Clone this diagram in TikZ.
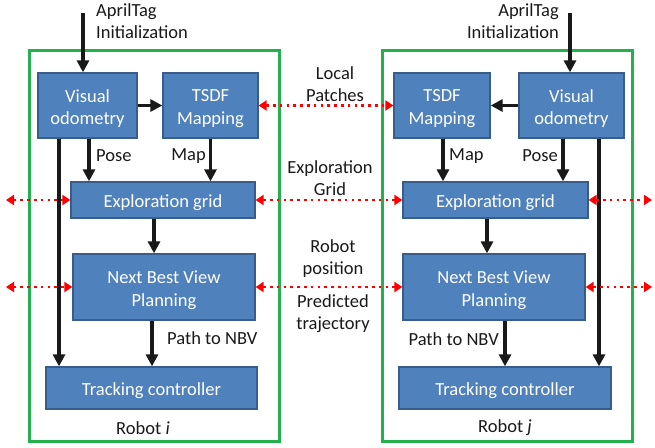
\documentclass[tikz,border=0pt]{standalone}
\usepackage{fontspec}
\setmainfont{Carlito}
\usetikzlibrary{arrows.meta}
\definecolor{boxfill}{RGB}{79,129,189}
\definecolor{boxline}{RGB}{56,93,138}
\definecolor{frameg}{RGB}{34,177,76}
\begin{document}
\begin{tikzpicture}[x=1pt,y=-1pt,
  box/.style={draw=boxline, line width=1.3pt, fill=boxfill, inner sep=0pt},
  boxtxt/.style={text=white, align=center, inner sep=0pt,
    font=\fontsize{18.5}{22.5}\selectfont},
  frame/.style={draw=frameg, line width=3pt, inner sep=0pt},
  lbl/.style={font=\fontsize{18.5}{22}\selectfont, text=black!90, inner sep=0pt},
  arr/.style={line width=3.5pt, draw=black!90, -{Triangle[length=12pt,width=12pt]}},
  share/.style={draw=red, line width=2.6pt, dash pattern=on 2.6pt off 4.2pt,
    {Triangle[length=8pt,width=10pt]}-{Triangle[length=8pt,width=10pt]}}
]
\useasboundingbox (0,0) rectangle (655,447);
% frames
\node[frame, minimum width=250pt, minimum height=391pt] (r1) at (154,245.5) {};
\node[frame, minimum width=250pt, minimum height=391pt] (r2) at (507,245.5) {};
% left boxes
\node[box, minimum width=99pt, minimum height=65pt] (vo1) at (87.5,105.5) {};
\node[box, minimum width=95pt, minimum height=65pt] (ts1) at (210.5,105.5) {};
\node[box, minimum width=184pt, minimum height=36pt] (eg1) at (163,200) {};
\node[box, minimum width=182pt, minimum height=66pt] (nb1) at (164,287) {};
\node[box, minimum width=211pt, minimum height=42pt] (tc1) at (151.5,388) {};
% right boxes
\node[box, minimum width=96pt, minimum height=65pt] (ts2) at (442,105.5) {};
\node[box, minimum width=105pt, minimum height=65pt] (vo2) at (571.5,105.5) {};
\node[box, minimum width=185pt, minimum height=36pt] (eg2) at (495.5,200) {};
\node[box, minimum width=182pt, minimum height=66pt] (nb2) at (494,287) {};
\node[box, minimum width=212pt, minimum height=42pt] (tc2) at (505,388) {};
% box texts
\node[boxtxt] (vo1t) at ([yshift=-3pt]vo1.center) {Visual\\odometry};
\node[boxtxt] (ts1t) at ([yshift=-3pt]ts1.center) {TSDF\\Mapping};
\node[boxtxt] (eg1t) at ([yshift=-3pt]eg1.center) {Exploration grid};
\node[boxtxt] (nb1t) at ([yshift=-3pt]nb1.center) {Next Best View\\Planning};
\node[boxtxt] (tc1t) at ([yshift=-3pt]tc1.center) {Tracking controller};
\node[boxtxt] (ts2t) at ([yshift=-3pt]ts2.center) {TSDF\\Mapping};
\node[boxtxt] (vo2t) at ([yshift=-3pt]vo2.center) {Visual\\odometry};
\node[boxtxt] (eg2t) at ([yshift=-3pt]eg2.center) {Exploration grid};
\node[boxtxt] (nb2t) at ([yshift=-3pt]nb2.center) {Next Best View\\Planning};
\node[boxtxt] (tc2t) at ([yshift=-3pt]tc2.center) {Tracking controller};
% free ends
\coordinate (at1) at (83,13);
\coordinate (at2) at (570,13);
\coordinate (le1) at (6,200);
\coordinate (le2) at (6,287);
\coordinate (re1) at (652,200);
\coordinate (re2) at (652,287);
% labels
\node[lbl, anchor=west, align=left] (al1) at (96,21) {AprilTag\\Initialization};
\node[lbl, anchor=east, align=right] (al2) at (559,21) {AprilTag\\Initialization};
\node[lbl, align=center] (lp) at (335,84) {Local\\Patches};
\node[lbl, align=center] (egl) at (330,178) {Exploration\\Grid};
\node[lbl, align=center] (rp) at (333,259) {Robot\\position};
\node[lbl, align=center] (pt) at (333,314) {Predicted\\trajectory};
\node[lbl, anchor=west] (p1) at (96,156) {Pose};
\node[lbl, anchor=east] (m1) at (206,156) {Map};
\node[lbl, anchor=west] (m2) at (449,156) {Map};
\node[lbl, anchor=east] (p2) at (558,156) {Pose};
\node[lbl, anchor=west] (pn1) at (167,338) {Path to NBV};
\node[lbl, anchor=east] (pn2) at (499,339) {Path to NBV};
\node[lbl] (ri) at (143,428) {Robot \textit{i}};
\node[lbl] (rj) at (505,428) {Robot \textit{j}};
% left arrows
\draw[arr] (at1) -- (at1 |- vo1.north);
\draw[arr] (vo1.east) -- (ts1.west);
\draw[arr] ([xshift=1.5pt]vo1.south) -- ([xshift=1.5pt]vo1.south |- eg1.north);
\draw[arr] (ts1.south) -- (ts1.south |- eg1.north);
\draw[arr] ([xshift=-28.5pt]vo1.south) -- ([xshift=-28.5pt]vo1.south |- tc1.north);
\draw[arr] ([xshift=-9pt]eg1.south) -- ([xshift=-9pt]eg1.south |- nb1.north);
\draw[arr] ([xshift=-12pt]nb1.south) -- ([xshift=-12pt]nb1.south |- tc1.north);
% right arrows
\draw[arr] (at2) -- (at2 |- vo2.north);
\draw[arr] (vo2.west) -- (ts2.east);
\draw[arr] ([xshift=1pt]ts2.south) -- ([xshift=1pt]ts2.south |- eg2.north);
\draw[arr] ([xshift=-8.5pt]vo2.south) -- ([xshift=-8.5pt]vo2.south |- eg2.north);
\draw[arr] ([xshift=27.5pt]vo2.south) -- ([xshift=27.5pt]vo2.south |- tc2.north);
\draw[arr] ([xshift=-8.5pt]eg2.south) -- ([xshift=-8.5pt]eg2.south |- nb2.north);
\draw[arr] ([xshift=11pt]nb2.south) -- ([xshift=11pt]nb2.south |- tc2.north);
% sharing
\draw[share] (ts1.east) -- (ts2.west);
\draw[share] (eg1.east) -- (eg2.west);
\draw[share] (nb1.east) -- (nb2.west);
\draw[share] (le1) -- (eg1.west);
\draw[share] (le2) -- (nb1.west);
\draw[share] (eg2.east) -- (re1);
\draw[share] (nb2.east) -- (re2);
\end{tikzpicture}
\end{document}
